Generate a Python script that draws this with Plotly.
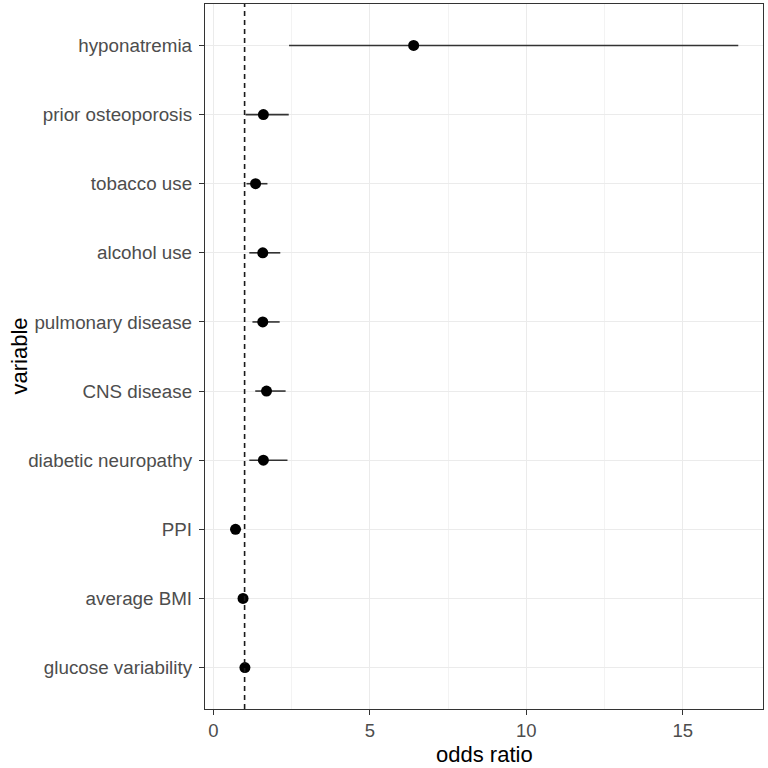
import plotly.graph_objects as go

variables = ["hyponatremia", "prior osteoporosis", "tobacco use", "alcohol use",
             "pulmonary disease", "CNS disease", "diabetic neuropathy", "PPI",
             "average BMI", "glucose variability"]
odds_ratio = [6.40, 1.60, 1.35, 1.58, 1.58, 1.70, 1.60, 0.71, 0.95, 1.01]
ci_lower = [2.42, 1.03, 1.06, 1.15, 1.25, 1.34, 1.15, 0.56, 0.90, 0.97]
ci_upper = [16.77, 2.41, 1.73, 2.14, 2.12, 2.31, 2.37, 0.89, 1.01, 1.06]
ref_line = 1
x_ticks = [0, 5, 10, 15]
x_minor = [2.5, 7.5, 12.5]

err_plus = [u - o for u, o in zip(ci_upper, odds_ratio)]
err_minus = [o - l for o, l in zip(odds_ratio, ci_lower)]

FONT = "Liberation Sans, Arial, sans-serif"

fig = go.Figure()
fig.add_trace(go.Scatter(
    x=odds_ratio, y=variables, mode="markers",
    marker=dict(color="black", size=11, symbol="circle"),
    error_x=dict(type="data", symmetric=False, array=err_plus, arrayminus=err_minus,
                 color="#333333", thickness=1.6, width=0),
    showlegend=False,
))
fig.add_shape(type="line", x0=ref_line, x1=ref_line, y0=0, y1=1, yref="paper", xref="x",
              line=dict(color="#1a1a1a", width=1.6, dash="5px,4px"), layer="above")

fig.update_layout(
    width=768, height=768,
    margin=dict(l=205, r=5, t=4, b=59, autoexpand=False),
    paper_bgcolor="white", plot_bgcolor="white",
    font=dict(family=FONT, color="#4d4d4d", size=18),
    annotations=[
        dict(text="odds ratio", xref="paper", yref="paper", x=0.5, y=-0.0645,
             xanchor="center", yanchor="middle", showarrow=False,
             font=dict(size=22, color="black", family=FONT)),
        dict(text="variable", xref="paper", yref="paper", x=-0.3333, y=0.5,
             xanchor="center", yanchor="middle", showarrow=False, textangle=-90,
             font=dict(size=22, color="black", family=FONT)),
    ],
)
fig.update_xaxes(
    automargin=False,
    range=[-0.265, 17.56], tickvals=x_ticks, ticks="outside", ticklen=5, tickcolor="#333333",
    tickwidth=1.2, tickfont=dict(size=18.5, color="#4d4d4d"),
    showgrid=True, gridcolor="#ebebeb", gridwidth=1.2,
    minor=dict(tickvals=x_minor, showgrid=True, gridcolor="#f3f3f3", gridwidth=0.8, ticks=""),
    showline=True, linecolor="#333333", linewidth=1.3, mirror=True, zeroline=False,
)
fig.update_yaxes(
    automargin=False,
    type="category", categoryorder="array", categoryarray=variables[::-1],
    range=[-0.6, 9.6], ticks="outside", ticklen=5, tickcolor="#333333", tickwidth=1.2,
    tickfont=dict(size=18.8, color="#4d4d4d"), ticklabelstandoff=3,
    showgrid=True, gridcolor="#ebebeb", gridwidth=1.2,
    showline=True, linecolor="#333333", linewidth=1.3, mirror=True, zeroline=False,
)
fig.write_html("out.html", config={"displayModeBar": False},
               post_script="document.body.style.margin='0';")
